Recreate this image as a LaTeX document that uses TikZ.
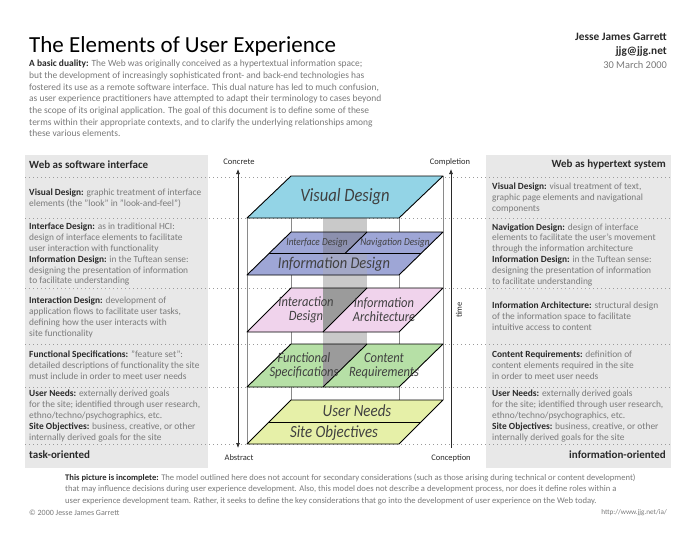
\documentclass[tikz,border=0pt]{standalone}
\usepackage{fontspec}
\setmainfont{Carlito}
\newfontfamily\condfont[FakeStretch=0.88]{Carlito}
\usetikzlibrary{arrows.meta}
\definecolor{panelgray}{HTML}{E8E8E8}
\definecolor{txtgray}{HTML}{7A7A7A}
\definecolor{lbldark}{HTML}{2A2A2A}
\definecolor{dotgray}{HTML}{9A9A9A}
\definecolor{framegray}{HTML}{8A8A8A}
\definecolor{visualc}{HTML}{93D4E6}
\definecolor{bluec}{HTML}{9EA6D6}
\definecolor{pinkc}{HTML}{F0D3EC}
\definecolor{greenc}{HTML}{B6E0A6}
\definecolor{yellowc}{HTML}{E6F0A8}
\definecolor{bandc}{HTML}{C9C9C9}
\definecolor{darktri}{HTML}{9B9B9B}
\definecolor{bluetri}{HTML}{8C90AE}
\definecolor{blueband}{HTML}{A3A8C6}
\definecolor{planetxt}{HTML}{404040}
\newcommand\lbl[1]{\textcolor{lbldark}{\textbf{#1}}}
\begin{document}
\begin{tikzpicture}[x=1pt,y=-1pt,
  coltext/.style={anchor=west,align=left,inner sep=0pt,text=txtgray,font=\fontsize{9.4}{10.8}\selectfont},
  head/.style={inner sep=0pt,text=lbldark,font=\fontsize{11}{12}\selectfont\bfseries},
  axislbl/.style={inner sep=0pt,text=lbldark,font=\fontsize{8.5}{10}\selectfont},
  dotline/.style={dotgray,line width=1pt,dash pattern=on 0.9pt off 3.1pt},
  frame/.style={framegray,line width=0.8pt},
  plane/.style={draw=black,line width=0.9pt,line join=round},
  ptext/.style={inner sep=0pt,text=planetxt,align=center},
  axis/.style={lbldark,line width=0.7pt}
]
\useasboundingbox (0,0) rectangle (700,541);
\fill[white] (0,0) rectangle (700,541);

% ---------- header ----------
\node[anchor=base west,inner sep=0pt,font=\fontsize{23}{24}\selectfont] (title) at (29,52) {The Elements of User Experience};
\node[anchor=base east,inner sep=0pt,font=\fontsize{11.3}{12}\selectfont\bfseries,text=lbldark] (author) at (667,40) {Jesse James Garrett};
\node[anchor=base east,inner sep=0pt,font=\fontsize{11.3}{12}\selectfont\bfseries,text=lbldark] (mail) at (667,54) {jjg@jjg.net};
\node[anchor=base east,inner sep=0pt,font=\fontsize{10.4}{11}\selectfont,text=txtgray] (date) at (667,68) {30 March 2000};

\node[anchor=west,align=left,inner sep=0pt,text=txtgray,font=\fontsize{9.45}{11.7}\selectfont] (intro) at (29,98.5)
{\lbl{A basic duality:} The Web was originally conceived as a hypertextual information space;\\
but the development of increasingly sophisticated front- and back-end technologies has\\
fostered its use as a remote software interface. This dual nature has led to much confusion,\\
as user experience practitioners have attempted to adapt their terminology to cases beyond\\
the scope of its original application. The goal of this document is to define some of these\\
terms within their appropriate contexts, and to clarify the underlying relationships among\\
these various elements.};

% ---------- side panels ----------
\fill[panelgray] (25,155) rectangle (208,468);
\fill[panelgray] (486,155) rectangle (671,468);

% dotted separators
\foreach \yy in {177,218,288,344,387,444}
  \draw[dotline] (25,\yy) -- (671,\yy);

% ---------- frame lines of the stack ----------
\draw[frame] (247,218) -- (247,444);
\draw[frame] (399,218) -- (399,444);
\draw[frame] (291,176) -- (291,400);
\draw[frame] (443,176) -- (443,400);
% grey wall
\fill[bandc] (323,218) rectangle (367,387);

% ---------- planes ----------
% Visual
\filldraw[plane,fill=visualc] (291,176) -- (443,176) -- (399,218) -- (247,218) -- cycle;
% Interface / Navigation / Information
\fill[bluec] (291,232) -- (443,232) -- (399,275) -- (247,275) -- cycle;
\fill[bluetri] (323,232) -- (367,232) -- (345,253.5) -- (323,253.5) -- cycle;
\fill[blueband] (323,253.5) rectangle (367,275);
\draw[plane] (291,232) -- (443,232) -- (399,275) -- (247,275) -- cycle;
\draw[plane] (269,253.5) -- (421,253.5);
\draw[plane] (367,232) -- (345,253.5);
% Interaction / IA
\fill[pinkc] (291,288) -- (443,288) -- (399,332) -- (247,332) -- cycle;
\fill[darktri] (323,288) -- (367,288) -- (323,332) -- cycle;
\draw[plane] (291,288) -- (443,288) -- (399,332) -- (247,332) -- cycle;
\draw[plane] (367,288) -- (323,332);
% Functional / Content
\fill[greenc] (291,344) -- (443,344) -- (399,387) -- (247,387) -- cycle;
\fill[darktri] (323,344) -- (367,344) -- (323,387) -- cycle;
\draw[plane] (291,344) -- (443,344) -- (399,387) -- (247,387) -- cycle;
\draw[plane] (367,344) -- (323,387);
% User needs / Site objectives
\filldraw[plane,fill=yellowc] (291,400) -- (443,400) -- (399,444) -- (247,444) -- cycle;
\draw[plane] (269,422) -- (421,422);

% plane labels
\node[ptext,font=\condfont\fontsize{18.8}{19}\selectfont\itshape] (vd) at (345,197) {Visual Design};
\node[ptext,font=\condfont\fontsize{10.6}{11}\selectfont\itshape] (ifd) at (317,243) {Interface Design};
\node[ptext,font=\condfont\fontsize{10.6}{11}\selectfont\itshape] (nvd) at (395,243) {Navigation Design};
\node[ptext,font=\condfont\fontsize{16.4}{17}\selectfont\itshape] (infd) at (334,264.5) {Information Design};
\node[ptext,font=\condfont\fontsize{14.2}{14}\selectfont\itshape] (ixd) at (306,310) {Interaction\\Design};
\node[ptext,font=\condfont\fontsize{14.2}{14}\selectfont\itshape] (ia) at (384,310) {Information\\Architecture};
\node[ptext,font=\condfont\fontsize{14.2}{14}\selectfont\itshape] (fs) at (304,366) {Functional\\Specifications};
\node[ptext,font=\condfont\fontsize{14.2}{14}\selectfont\itshape] (cr) at (384,366) {Content\\Requirements};
\node[ptext,font=\condfont\fontsize{17}{17}\selectfont\itshape] (un) at (357,411) {User Needs};
\node[ptext,font=\condfont\fontsize{17}{17}\selectfont\itshape] (so) at (334,433) {Site Objectives};

% ---------- axes ----------
\node[axislbl] (concrete) at (239,162) {Concrete};
\node[axislbl] (abstract) at (239,458) {Abstract};
\node[axislbl] (completion) at (450,162) {Completion};
\node[axislbl] (conception) at (451,458) {Conception};
\coordinate (ltop) at (238,169);
\coordinate (lbot) at (238,448);
\coordinate (rtop) at (451,169);
\coordinate (rbot) at (451,448);
\draw[axis,{Latex[length=5pt,width=4pt]}-{Latex[length=5pt,width=4pt]}] (ltop) -- (lbot);
\draw[axis,-{Latex[length=5pt,width=4pt]}] (rbot) -- (rtop);
\node[axislbl,rotate=90,font=\fontsize{8.5}{9}\selectfont] (time) at (459,310) {time};

% ---------- left column ----------
\node[head,anchor=west] (lh) at (29,165) {Web as software interface};
\node[coltext] (l1) at (29,198) {\lbl{Visual Design:} graphic treatment of interface\\elements (the "look" in "look-and-feel")};
\node[coltext] (l2) at (29,254.5) {\lbl{Interface Design:} as in traditional HCI:\\design of interface elements to facilitate\\user interaction with functionality\\\lbl{Information Design:} in the Tuftean sense:\\designing the presentation of information\\to facilitate understanding};
\node[coltext] (l3) at (29,317.5) {\lbl{Interaction Design:} development of\\application flows to facilitate user tasks,\\defining how the user interacts with\\site functionality};
\node[coltext] (l4) at (29,365.5) {\lbl{Functional Specifications:} "feature set":\\detailed descriptions of functionality the site\\must include in order to meet user needs};
\node[coltext] (l5) at (29,416) {\lbl{User Needs:} externally derived goals\\for the site; identified through user research,\\ethno/techno/psychographics, etc.\\\lbl{Site Objectives:} business, creative, or other\\internally derived goals for the site};
\node[head,anchor=west] (lf) at (29,455) {task-oriented};

% ---------- right column ----------
\node[head,anchor=east] (rh) at (666,165) {Web as hypertext system};
\node[coltext] (r1) at (492,198) {\lbl{Visual Design:} visual treatment of text,\\graphic page elements and navigational\\components};
\node[coltext] (r2) at (492,254.5) {\lbl{Navigation Design:} design of interface\\elements to facilitate the user's movement\\through the information architecture\\\lbl{Information Design:} in the Tuftean sense:\\designing the presentation of information\\to facilitate understanding};
\node[coltext] (r3) at (492,316) {\lbl{Information Architecture:} structural design\\of the information space to facilitate\\intuitive access to content};
\node[coltext] (r4) at (492,365.5) {\lbl{Content Requirements:} definition of\\content elements required in the site\\in order to meet user needs};
\node[coltext] (r5) at (492,416) {\lbl{User Needs:} externally derived goals\\for the site; identified through user research,\\ethno/techno/psychographics, etc.\\\lbl{Site Objectives:} business, creative, or other\\internally derived goals for the site};
\node[head,anchor=east] (rf) at (666,455) {information-oriented};

% ---------- footer ----------
\node[anchor=west,align=left,inner sep=0pt,text=txtgray,font=\fontsize{8.6}{11.5}\selectfont] (note) at (65,489.5)
{\lbl{This picture is incomplete:} The model outlined here does not account for secondary considerations (such as those arising during technical or content development)\\
that may influence decisions during user experience development. Also, this model does not describe a development process, nor does it define roles within a\\
user experience development team. Rather, it seeks to define the key considerations that go into the development of user experience on the Web today.};
\node[anchor=west,inner sep=0pt,text=txtgray,font=\fontsize{8}{9}\selectfont] (copy) at (29,513) {© 2000 Jesse James Garrett};
\node[anchor=east,inner sep=0pt,text=txtgray,font=\fontsize{7.2}{9}\selectfont] (url) at (667,513) {http://www.jjg.net/ia/};
\end{tikzpicture}
\end{document}
